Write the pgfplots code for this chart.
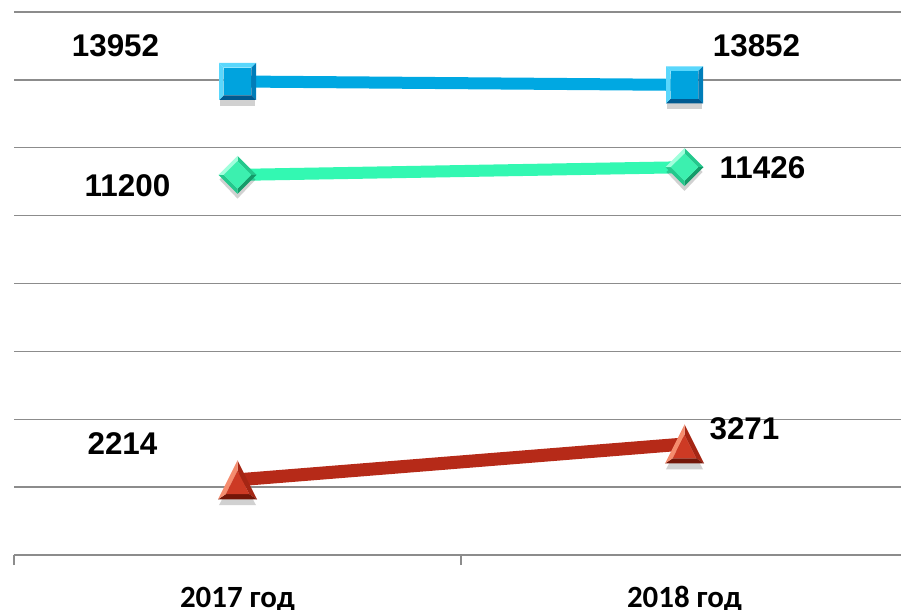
\documentclass[border=0pt]{standalone}
\usepackage{fontspec}
\setmainfont{Liberation Sans}
\newfontfamily\calibri{Carlito}
\usepackage{pgfplots}
\pgfplotsset{compat=1.18}
\definecolor{gridgray}{RGB}{140,140,140}
\definecolor{cblue}{RGB}{0,168,226}
\definecolor{bmain}{RGB}{0,163,222}
\definecolor{blight}{RGB}{90,215,252}
\definecolor{bmid}{RGB}{0,125,185}
\definecolor{bdark}{RGB}{0,90,145}
\definecolor{cgreen}{RGB}{51,248,178}
\definecolor{gmain}{RGB}{60,240,175}
\definecolor{glight}{RGB}{160,255,220}
\definecolor{gmid}{RGB}{35,200,140}
\definecolor{gdark}{RGB}{20,155,105}
\definecolor{cred}{RGB}{182,42,24}
\definecolor{rmain}{RGB}{205,58,36}
\definecolor{rlight}{RGB}{245,140,110}
\definecolor{rmid}{RGB}{165,38,20}
\definecolor{rdark}{RGB}{115,22,8}
\tikzset{lbl/.style={font=\bfseries\fontsize{31.5}{36}\selectfont, inner sep=0pt, anchor=center}}
\makeatletter
\def\mpt#1#2{\pgfpoint{#1\pgfplotmarksize}{#2\pgfplotmarksize}}
\def\bvface#1#2#3#4#5{\pgfsetfillcolor{#5}\pgfpathmoveto{#1}\pgfpathlineto{#2}\pgfpathlineto{#3}\pgfpathlineto{#4}\pgfpathclose\pgfusepath{fill}}
\def\bvshadow#1{\begin{pgfscope}\pgfsetfillcolor{black}\pgfsetfillopacity{0.18}#1\pgfusepath{fill}\end{pgfscope}}
\pgfdeclareplotmark{bsq}{%
  \bvshadow{\pgfpathrectanglecorners{\mpt{-0.95}{-1.3}}{\mpt{0.95}{0.6}}}%
  \bvface{\mpt{-1}{1}}{\mpt{1}{1}}{\mpt{0.75}{0.75}}{\mpt{-0.75}{0.75}}{blight}%
  \bvface{\mpt{1}{1}}{\mpt{1}{-1}}{\mpt{0.75}{-0.75}}{\mpt{0.75}{0.75}}{bmid}%
  \bvface{\mpt{1}{-1}}{\mpt{-1}{-1}}{\mpt{-0.75}{-0.75}}{\mpt{0.75}{-0.75}}{bdark}%
  \bvface{\mpt{-1}{-1}}{\mpt{-1}{1}}{\mpt{-0.75}{0.75}}{\mpt{-0.75}{-0.75}}{blight}%
  \pgfsetfillcolor{bmain}\pgfpathrectanglecorners{\mpt{-0.75}{-0.75}}{\mpt{0.75}{0.75}}\pgfusepath{fill}%
}
\pgfdeclareplotmark{bdia}{%
  \bvshadow{\pgfpathmoveto{\mpt{0}{0.7}}\pgfpathlineto{\mpt{0.95}{-0.25}}\pgfpathlineto{\mpt{0}{-1.25}}\pgfpathlineto{\mpt{-0.95}{-0.25}}\pgfpathclose}%
  \bvface{\mpt{0}{1}}{\mpt{1}{0}}{\mpt{0.72}{0}}{\mpt{0}{0.72}}{gmid}%
  \bvface{\mpt{1}{0}}{\mpt{0}{-1}}{\mpt{0}{-0.72}}{\mpt{0.72}{0}}{gdark}%
  \bvface{\mpt{0}{-1}}{\mpt{-1}{0}}{\mpt{-0.72}{0}}{\mpt{0}{-0.72}}{gmid}%
  \bvface{\mpt{-1}{0}}{\mpt{0}{1}}{\mpt{0}{0.72}}{\mpt{-0.72}{0}}{glight}%
  \pgfsetfillcolor{gmain}\pgfpathmoveto{\mpt{0}{0.72}}\pgfpathlineto{\mpt{0.72}{0}}\pgfpathlineto{\mpt{0}{-0.72}}\pgfpathlineto{\mpt{-0.72}{0}}\pgfpathclose\pgfusepath{fill}%
}
\pgfdeclareplotmark{btri}{%
  \bvshadow{\pgfpathmoveto{\mpt{0}{0.5}}\pgfpathlineto{\mpt{0.95}{-1.3}}\pgfpathlineto{\mpt{-0.95}{-1.3}}\pgfpathclose}%
  \bvface{\mpt{0}{1}}{\mpt{1}{-1}}{\mpt{0.6}{-0.733}}{\mpt{0}{0.467}}{rmid}%
  \bvface{\mpt{1}{-1}}{\mpt{-1}{-1}}{\mpt{-0.6}{-0.733}}{\mpt{0.6}{-0.733}}{rdark}%
  \bvface{\mpt{-1}{-1}}{\mpt{0}{1}}{\mpt{0}{0.467}}{\mpt{-0.6}{-0.733}}{rlight}%
  \pgfsetfillcolor{rmain}\pgfpathmoveto{\mpt{0}{0.467}}\pgfpathlineto{\mpt{0.6}{-0.733}}\pgfpathlineto{\mpt{-0.6}{-0.733}}\pgfpathclose\pgfusepath{fill}%
}
\makeatother
\begin{document}
\begin{tikzpicture}
\begin{axis}[
  at={(14bp,55bp)}, anchor=south west,
  scale only axis, width=894bp, height=543bp,
  xmin=-0.5, xmax=1.5, ymin=0, ymax=16000,
  clip=false,
  axis x line*=bottom, axis y line*=left,
  y axis line style={draw=none},
  x axis line style={draw=gridgray, line width=1.3bp, -},
  ytick={0,2000,...,16000}, yticklabels={}, ytick style={draw=none},
  ymajorgrids, major grid style={draw=gridgray, line width=1.3bp},
  xtick={-0.5,0.5,1.5}, xticklabels={},
  xtick style={draw=gridgray, line width=1.3bp},
  tick align=outside, major tick length=10bp,
  extra x ticks={0,1}, extra x tick labels={2017 год,2018 год},
  extra x tick style={major tick length=0pt, xtick style={draw=none}},
  xticklabel style={font=\calibri\bfseries\fontsize{31}{36}\selectfont, anchor=base, yshift=-52bp, inner sep=0pt},
]
\addplot[cgreen, line width=12bp, mark=bdia, mark size=19bp]
  coordinates {(0,11200) (1,11426)};
\addplot[cblue, line width=12bp, mark=bsq, mark size=18.5bp]
  coordinates {(0,13952) (1,13852)};
\addplot[cred, line width=13bp, mark=btri, mark size=19.5bp]
  coordinates {(0,2214) (1,3271)};
\node[lbl, xshift=-122bp, yshift=36bp] at (axis cs:0,13952) {13952};
\node[lbl, xshift=72bp, yshift=39bp] at (axis cs:1,13852) {13852};
\node[lbl, xshift=-110bp, yshift=-11bp] at (axis cs:0,11200) {11200};
\node[lbl, xshift=78bp, yshift=0bp] at (axis cs:1,11426) {11426};
\node[lbl, xshift=-115bp, yshift=36bp] at (axis cs:0,2214) {2214};
\node[lbl, xshift=60bp, yshift=15bp] at (axis cs:1,3271) {3271};
\end{axis}
\pgfresetboundingbox
\useasboundingbox (0,0) rectangle (901bp,610bp);
\end{tikzpicture}
\end{document}
